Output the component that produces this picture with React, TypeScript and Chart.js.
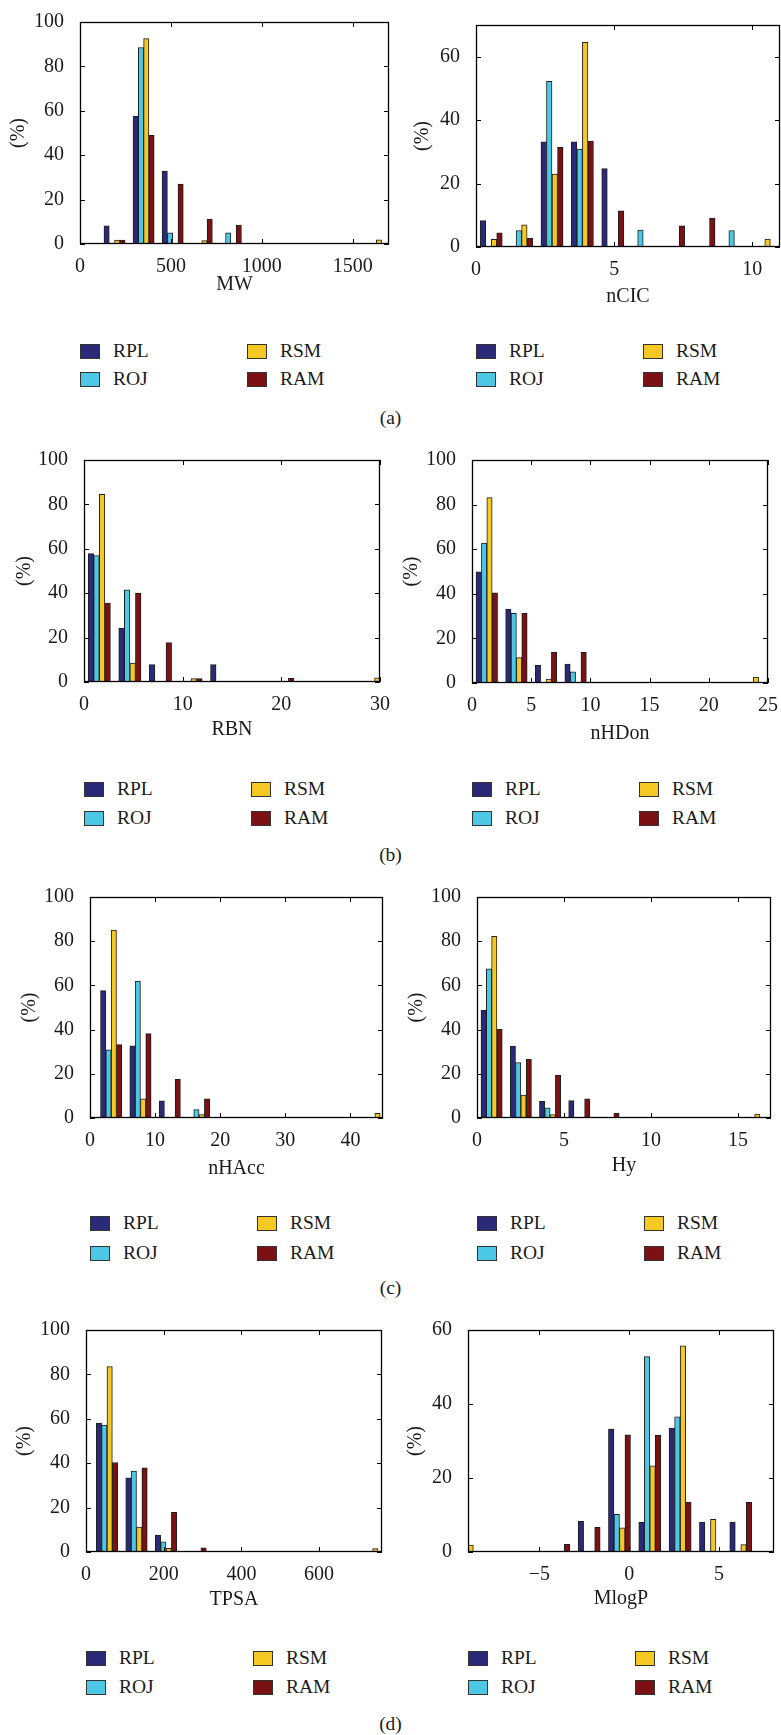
import React, { useEffect, useRef } from "react";
import { Chart, registerables } from "chart.js";
Chart.register(...registerables);

const SERIES = ["RPL", "ROJ", "RSM", "RAM"];
const COLORS = ["#2b2a78", "#4cc8e6", "#f5c823", "#7b1113"];

// ---- (a) MW ----
const MW_BINS = [190, 350, 510, 670, 830, 990, 1150, 1310, 1470, 1630];
const MW_RPL = [8.2, 57.6, 32.9, 0, 0, 0, 0, 0, 0, 0];
const MW_ROJ = [0, 88.5, 5.0, 0, 5.0, 0, 0, 0, 0, 0];
const MW_RSM = [1.8, 92.5, 0, 1.5, 0, 0, 0, 0, 0, 1.9];
const MW_RAM = [1.8, 48.9, 27.0, 11.2, 8.5, 0, 0, 0, 0, 0];
const MW_XTICKS = [0, 500, 1000, 1500];

// ---- (a) nCIC ----
const NCIC_BINS = [0.55, 1.65, 2.75, 3.85, 4.95, 6.05, 7.15, 8.25, 9.35, 10.45];
const NCIC_RPL = [8.3, 0, 33.2, 33.2, 24.7, 0, 0, 0, 0, 0];
const NCIC_ROJ = [0, 5.2, 52.2, 30.9, 0, 5.3, 0, 0, 5.2, 0];
const NCIC_RSM = [2.4, 7.0, 23.0, 64.5, 0, 0, 0, 0, 0, 2.5];
const NCIC_RAM = [4.5, 2.7, 31.5, 33.4, 11.4, 0, 6.7, 9.1, 0, 0];
const NCIC_XTICKS = [0, 5, 10];

// ---- (b) RBN ----
const RBN_BINS = [1.55, 4.65, 7.75, 10.85, 13.95, 17.05, 20.15, 23.25, 26.35, 29.45];
const RBN_RPL = [57.8, 24.3, 7.8, 0, 7.8, 0, 0, 0, 0, 0];
const RBN_ROJ = [57.0, 41.5, 0, 0, 0, 0, 0, 0, 0, 0];
const RBN_RSM = [84.5, 8.5, 0, 1.5, 0, 0, 0, 0, 0, 1.9];
const RBN_RAM = [35.6, 40.0, 17.8, 1.5, 0, 0, 1.6, 0, 0, 0];
const RBN_XTICKS = [0, 10, 20, 30];

// ---- (b) nHDon ----
const NHDON_BINS = [1.25, 3.75, 6.25, 8.75, 11.25, 13.75, 16.25, 18.75, 21.25, 23.75];
const NHDON_RPL = [49.8, 33.1, 7.9, 8.5, 0, 0, 0, 0, 0, 0];
const NHDON_ROJ = [62.8, 31.2, 0, 5.0, 0, 0, 0, 0, 0, 0];
const NHDON_RSM = [83.1, 11.4, 1.8, 0, 0, 0, 0, 0, 0, 2.6];
const NHDON_RAM = [40.4, 31.2, 13.7, 13.7, 0, 0, 0, 0, 0, 0];
const NHDON_XTICKS = [0, 5, 10, 15, 20, 25];

// ---- (c) nHAcc ----
const NHACC_BINS = [3.25, 7.75, 12.25, 16.75, 21.25, 25.75, 30.25, 34.75, 39.25, 43.75];
const NHACC_RPL = [57.6, 32.6, 7.8, 0, 0, 0, 0, 0, 0, 0];
const NHACC_ROJ = [30.9, 61.9, 0, 3.8, 0, 0, 0, 0, 0, 0];
const NHACC_RSM = [85.0, 8.7, 0, 1.6, 0, 0, 0, 0, 0, 2.1];
const NHACC_RAM = [33.2, 38.2, 17.5, 8.7, 0, 0, 0, 0, 0, 0];
const NHACC_XTICKS = [0, 10, 20, 30, 40];

// ---- (c) Hy ----
const HY_BINS = [0.84, 2.52, 4.2, 5.88, 7.56, 9.24, 10.92, 12.6, 14.28, 15.96];
const HY_RPL = [48.8, 32.5, 7.5, 7.9, 0, 0, 0, 0, 0, 0];
const HY_ROJ = [67.5, 25.1, 4.6, 0, 0, 0, 0, 0, 0, 0];
const HY_RSM = [82.2, 10.4, 1.6, 0, 0, 0, 0, 0, 0, 1.8];
const HY_RAM = [40.1, 26.6, 19.4, 8.7, 2.1, 0, 0, 0, 0, 0];
const HY_XTICKS = [0, 5, 10, 15];

// ---- (d) TPSA ----
const TPSA_BINS = [54, 130, 206, 282, 358, 434, 510, 586, 662, 738];
const TPSA_RPL = [58.1, 33.4, 7.6, 0, 0, 0, 0, 0, 0, 0];
const TPSA_ROJ = [57.2, 36.5, 4.6, 0, 0, 0, 0, 0, 0, 0];
const TPSA_RSM = [83.5, 11.2, 1.6, 0, 0, 0, 0, 0, 0, 1.5];
const TPSA_RAM = [40.3, 37.9, 17.9, 1.9, 0, 0, 0, 0, 0, 0];
const TPSA_XTICKS = [0, 200, 400, 600];

// ---- (d) MlogP ----
const MLOGP_BINS = [-8.99, -7.3, -5.61, -3.92, -2.23, -0.54, 1.15, 2.84, 4.53, 6.22];
const MLOGP_RPL = [0, 0, 0, 0, 8.3, 33.2, 8.0, 33.5, 8.1, 8.1];
const MLOGP_ROJ = [0, 0, 0, 0, 0, 10.2, 52.8, 36.5, 0, 0];
const MLOGP_RSM = [1.9, 0, 0, 0, 0, 6.5, 23.3, 55.7, 8.8, 2.0];
const MLOGP_RAM = [0, 0, 0, 2.1, 6.7, 31.7, 31.6, 13.4, 0, 13.4];
const MLOGP_XTICKS = [-5, 0, 5];
const MLOGP_XTICK_LABELS = ["\u22125", "0", "5"];

const Y_TICKS_100 = [0, 20, 40, 60, 80, 100];
const Y_TICKS_60 = [0, 20, 40, 60];

const CAPTIONS = ["(a)", "(b)", "(c)", "(d)"];

// MATLAB grouped-bar offsets (fraction of bin width) for 4 series
const OFFSETS = [-3, -1, 1, 3].map((v) => v / 11);

const FONT_FAMILY = "'Liberation Serif', 'DejaVu Serif', serif";
const TEXT_COLOR = "#1a1a1a";

type PanelCfg = {
  title: string;
  bins: number[];
  series: number[][];
  xMin: number;
  xMax: number;
  xTicks: number[];
  xTickLabels?: string[];
  yMax: number;
  yTicks: number[];
  plot: [number, number, number, number];
  titleY: number;
  yTitleX: number;
};

const PANELS: PanelCfg[] = [
  { title: "MW", bins: MW_BINS, series: [MW_RPL, MW_ROJ, MW_RSM, MW_RAM], xMin: 0, xMax: 1700, xTicks: MW_XTICKS, yMax: 100, yTicks: Y_TICKS_100, plot: [80, 17, 389, 244], titleY: 285, yTitleX: 19 },
  { title: "nCIC", bins: NCIC_BINS, series: [NCIC_RPL, NCIC_ROJ, NCIC_RSM, NCIC_RAM], xMin: 0, xMax: 11, xTicks: NCIC_XTICKS, yMax: 70, yTicks: Y_TICKS_60, plot: [476, 20, 780, 247], titleY: 297, yTitleX: 423 },
  { title: "RBN", bins: RBN_BINS, series: [RBN_RPL, RBN_ROJ, RBN_RSM, RBN_RAM], xMin: 0, xMax: 30, xTicks: RBN_XTICKS, yMax: 100, yTicks: Y_TICKS_100, plot: [84, 455, 380, 682], titleY: 730, yTitleX: 25 },
  { title: "nHDon", bins: NHDON_BINS, series: [NHDON_RPL, NHDON_ROJ, NHDON_RSM, NHDON_RAM], xMin: 0, xMax: 25, xTicks: NHDON_XTICKS, yMax: 100, yTicks: Y_TICKS_100, plot: [472, 455, 768, 683], titleY: 734, yTitleX: 412 },
  { title: "nHAcc", bins: NHACC_BINS, series: [NHACC_RPL, NHACC_ROJ, NHACC_RSM, NHACC_RAM], xMin: 0, xMax: 45, xTicks: NHACC_XTICKS, yMax: 100, yTicks: Y_TICKS_100, plot: [90, 892, 383, 1118], titleY: 1169, yTitleX: 30 },
  { title: "Hy", bins: HY_BINS, series: [HY_RPL, HY_ROJ, HY_RSM, HY_RAM], xMin: 0, xMax: 16.9, xTicks: HY_XTICKS, yMax: 100, yTicks: Y_TICKS_100, plot: [477, 892, 771, 1118], titleY: 1166, yTitleX: 417 },
  { title: "TPSA", bins: TPSA_BINS, series: [TPSA_RPL, TPSA_ROJ, TPSA_RSM, TPSA_RAM], xMin: 0, xMax: 762, xTicks: TPSA_XTICKS, yMax: 100, yTicks: Y_TICKS_100, plot: [86, 1325, 382, 1552], titleY: 1600, yTitleX: 25 },
  { title: "MlogP", bins: MLOGP_BINS, series: [MLOGP_RPL, MLOGP_ROJ, MLOGP_RSM, MLOGP_RAM], xMin: -8.98, xMax: 8.07, xTicks: MLOGP_XTICKS, xTickLabels: MLOGP_XTICK_LABELS, yMax: 60, yTicks: Y_TICKS_60, plot: [468, 1325, 774, 1552], titleY: 1599, yTitleX: 416 },
];

const LEGEND_ROWS = [
  [351, 379],
  [789, 818],
  [1223, 1253],
  [1658, 1687],
];
const CAPTION_Y = [418, 855, 1288, 1724];

const boxPlugin = {
  id: "matlabBox",
  afterDatasetsDraw(chart: any) {
    const { ctx, chartArea } = chart;
    const { left, right, top, bottom } = chartArea;
    const xs = chart.scales.x;
    const ys = chart.scales.y;
    const TL = 5;
    ctx.save();
    ctx.strokeStyle = "#000";
    ctx.lineWidth = 1;
    ctx.beginPath();
    for (const t of xs.ticks) {
      const px = Math.round(xs.getPixelForValue(t.value)) + 0.5;
      ctx.moveTo(px, bottom);
      ctx.lineTo(px, bottom - TL);
      ctx.moveTo(px, top);
      ctx.lineTo(px, top + TL);
    }
    for (const t of ys.ticks) {
      const py = Math.round(ys.getPixelForValue(t.value)) + 0.5;
      ctx.moveTo(left, py);
      ctx.lineTo(left + TL, py);
      ctx.moveTo(right, py);
      ctx.lineTo(right - TL, py);
    }
    ctx.stroke();
    ctx.lineWidth = 1.3;
    ctx.strokeRect(left + 0.5, top + 0.5, right - left - 1, bottom - top - 1);
    ctx.restore();
  },
};

function Panel({ cfg }: { cfg: PanelCfg }) {
  const ref = useRef<HTMLCanvasElement>(null);
  const [pl, pt, pr, pb] = cfg.plot;
  const cLeft = Math.round(cfg.yTitleX - 12);
  const padTop = 15;
  const cTop = pt - padTop;
  const padRight = Math.min(15, 781 - pr);
  const cRight = pr + padRight;
  const cBottom = Math.round(cfg.titleY + 12);
  const w = cRight - cLeft;
  const h = cBottom - cTop;
  const yAxisW = pl - cLeft;
  const xAxisH = cBottom - pb;

  useEffect(() => {
    const bw = cfg.bins[1] - cfg.bins[0];
    const datasets = SERIES.map((name, k) => ({
      label: name,
      data: cfg.bins.map((c, i) => ({ x: c + OFFSETS[k] * bw, y: cfg.series[k][i] })),
      backgroundColor: COLORS[k],
      borderColor: "#1e1e1e",
      borderWidth: 1,
      borderSkipped: false,
      grouped: false,
      categoryPercentage: 1,
      barPercentage: 1,
    }));
    const font = { family: FONT_FAMILY, size: 20 };
    const chart = new Chart(ref.current as HTMLCanvasElement, {
      type: "bar",
      data: { datasets } as any,
      options: {
        animation: false,
        responsive: false,
        devicePixelRatio: 1,
        layout: { padding: { top: padTop, right: padRight, left: 0, bottom: 0 } },
        plugins: { legend: { display: false }, tooltip: { enabled: false } },
        scales: {
          x: {
            type: "linear",
            min: cfg.xMin,
            max: cfg.xMax,
            offset: false,
            bounds: "data",
            grid: { display: false, offset: false },
            border: { display: false },
            afterBuildTicks: (s: any) => {
              s.ticks = cfg.xTicks.map((v) => ({ value: v }));
            },
            afterFit: (s: any) => {
              s.height = xAxisH;
            },
            ticks: {
              font,
              color: TEXT_COLOR,
              padding: 3,
              maxRotation: 0,
              autoSkip: false,
              callback: (v: any, i: number) => (cfg.xTickLabels ? cfg.xTickLabels[i] : String(cfg.xTicks[i])),
            },
            title: { display: true, text: cfg.title, font, color: TEXT_COLOR, padding: 0 },
          },
          y: {
            type: "linear",
            min: 0,
            max: cfg.yMax,
            bounds: "data",
            grid: { display: false },
            border: { display: false },
            afterBuildTicks: (s: any) => {
              s.ticks = cfg.yTicks.map((v) => ({ value: v }));
            },
            afterFit: (s: any) => {
              s.width = yAxisW;
            },
            ticks: {
              font,
              color: TEXT_COLOR,
              padding: 8,
              autoSkip: false,
              callback: (v: any, i: number) => String(cfg.yTicks[i]),
            },
            title: { display: true, text: "(%)", font, color: TEXT_COLOR, padding: 0 },
          },
        },
      } as any,
      plugins: [boxPlugin],
    });
    return () => chart.destroy();
  }, []);

  return (
    <canvas
      ref={ref}
      width={w}
      height={h}
      style={{ position: "absolute", left: cLeft, top: cTop, width: w, height: h }}
    />
  );
}

function Legend({ x, rows }: { x: number; rows: number[] }) {
  const items = [
    { name: SERIES[0], color: COLORS[0], col: 0, row: 0 },
    { name: SERIES[1], color: COLORS[1], col: 0, row: 1 },
    { name: SERIES[2], color: COLORS[2], col: 1, row: 0 },
    { name: SERIES[3], color: COLORS[3], col: 1, row: 1 },
  ];
  return (
    <>
      {items.map((it) => {
        const sx = x + it.col * 167;
        const cy = rows[it.row];
        return (
          <React.Fragment key={it.name}>
            <div
              style={{
                position: "absolute",
                left: sx,
                top: cy - 7.5,
                width: 20,
                height: 15,
                background: it.color,
                border: "1px solid #333",
                boxSizing: "border-box",
              }}
            />
            <div
              style={{
                position: "absolute",
                left: sx + 33,
                top: cy - 12,
                fontFamily: FONT_FAMILY,
                fontSize: 19.5,
                lineHeight: "24px",
                color: TEXT_COLOR,
                whiteSpace: "nowrap",
              }}
            >
              {it.name}
            </div>
          </React.Fragment>
        );
      })}
    </>
  );
}

export default function App() {
  return (
    <div
      style={{
        position: "absolute",
        left: 0,
        top: 0,
        width: 781,
        height: 1735,
        overflow: "hidden",
        background: "#fff",
      }}
    >
      {PANELS.map((p) => (
        <Panel key={p.title} cfg={p} />
      ))}
      {PANELS.map((p, i) => (
        <Legend key={"lg" + p.title} x={p.plot[0]} rows={LEGEND_ROWS[Math.floor(i / 2)]} />
      ))}
      {CAPTIONS.map((c, i) => (
        <div
          key={c}
          style={{
            position: "absolute",
            left: 0,
            width: 781,
            top: CAPTION_Y[i] - 12,
            textAlign: "center",
            fontFamily: FONT_FAMILY,
            fontSize: 19.5,
            lineHeight: "24px",
            color: TEXT_COLOR,
          }}
        >
          {c}
        </div>
      ))}
    </div>
  );
}
